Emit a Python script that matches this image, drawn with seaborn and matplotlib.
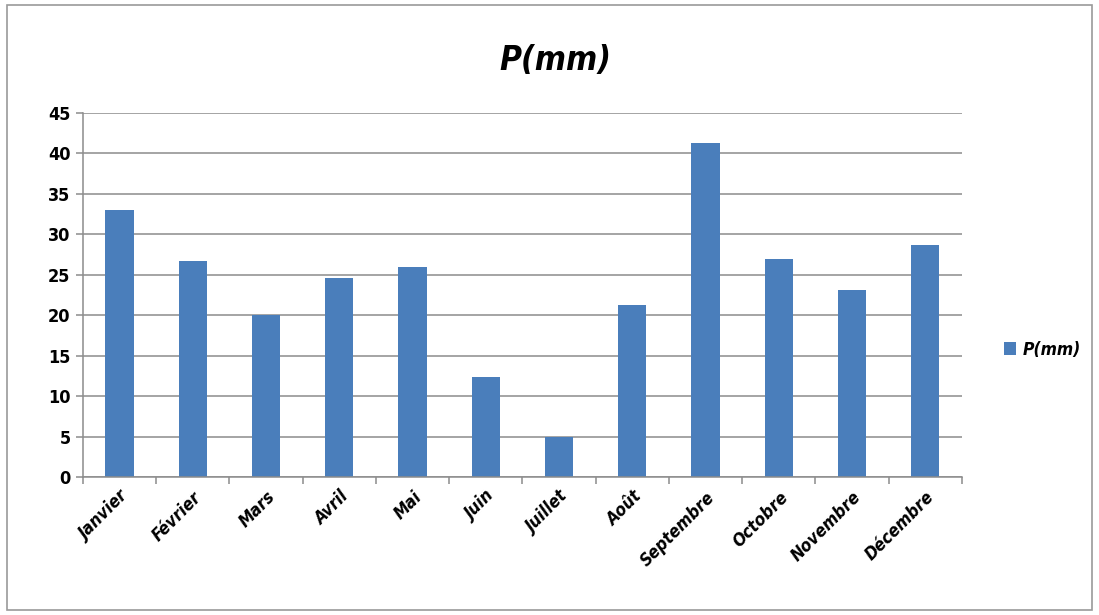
import matplotlib
matplotlib.use("Agg")
import matplotlib.pyplot as plt
from matplotlib.patches import Rectangle
from matplotlib.ticker import FixedLocator
import seaborn as sns
import pandas as pd

# Monthly precipitation (mm)
months = ["Janvier", "Février", "Mars", "Avril", "Mai", "Juin", "Juillet",
          "Août", "Septembre", "Octobre", "Novembre", "Décembre"]
precip = [33.0, 26.7, 20.0, 24.6, 26.0, 12.3, 5.0, 21.3, 41.3, 26.9, 23.1, 28.7]
series_name = "P(mm)"
y_ticks = [0, 5, 10, 15, 20, 25, 30, 35, 40, 45]

df = pd.DataFrame({"mois": months, "P": precip, "serie": series_name})

sns.set_theme(style="white")
plt.rcParams["font.family"] = ["DejaVu Sans", "Noto Sans"]
plt.rcParams["text.color"] = "black"
plt.rcParams["xtick.labelcolor"] = "black"
plt.rcParams["ytick.labelcolor"] = "black"

fig = plt.figure(figsize=(10.99, 6.15), dpi=100)
ax = fig.add_axes([0.0755, 0.2244, 0.7998, 0.5919])

bar_color = "#4a7ebb"
sns.barplot(data=df, x="mois", y="P", hue="serie", palette=[bar_color],
            width=0.385, ax=ax, saturation=1, legend=True, linewidth=0)

ax.set_ylim(0, 45)
ax.set_xlim(-0.5, len(months) - 0.5)
ax.set_yticks(y_ticks)
ax.yaxis.grid(True, color="#8c8c8c", linewidth=1.1)
ax.set_axisbelow(True)
ax.set_xlabel("")
ax.set_ylabel("")

for s in ["top", "right"]:
    ax.spines[s].set_visible(False)
for s in ["left", "bottom"]:
    ax.spines[s].set_color("#8c8c8c")
    ax.spines[s].set_linewidth(1.1)

# Category-boundary ticks on x, value ticks on y
ax.xaxis.set_minor_locator(FixedLocator([i - 0.5 for i in range(len(months) + 1)]))
ax.tick_params(axis="x", which="major", length=0, pad=8)
ax.tick_params(axis="x", which="minor", length=5, width=1.1, color="#8c8c8c",
               direction="out", bottom=True)
ax.tick_params(axis="y", length=5, width=1.1, color="#8c8c8c", direction="out",
               left=True, pad=4)

for lbl in ax.get_xticklabels():
    lbl.set_rotation(45)
    lbl.set_ha("right")
    lbl.set_rotation_mode("anchor")
    lbl.set_fontstyle("italic")
    lbl.set_fontweight("bold")
    lbl.set_fontstretch("condensed")
    lbl.set_fontsize(12.5)
    lbl.set_color("black")
for lbl in ax.get_yticklabels():
    lbl.set_fontweight("bold")
    lbl.set_fontstretch("condensed")
    lbl.set_fontsize(13)
    lbl.set_color("black")

fig.text(0.505, 0.902, series_name, ha="center", va="center", fontsize=24,
         fontweight="bold", fontstyle="italic", fontstretch="condensed",
         color="black")

leg = ax.legend(loc="center left", bbox_to_anchor=(1.03, 0.35), frameon=False,
                handlelength=0.7, handleheight=0.7, handletextpad=0.4,
                prop=dict(weight="bold", style="italic", stretch="condensed", size=12.5))
for t in leg.get_texts():
    t.set_color("black")

# Chart frame
fig.add_artist(Rectangle((0.006, 0.008), 0.988, 0.984, transform=fig.transFigure,
                         fill=False, edgecolor="#9a9a9a", linewidth=1.2))

fig.savefig("out.png", dpi=100)
